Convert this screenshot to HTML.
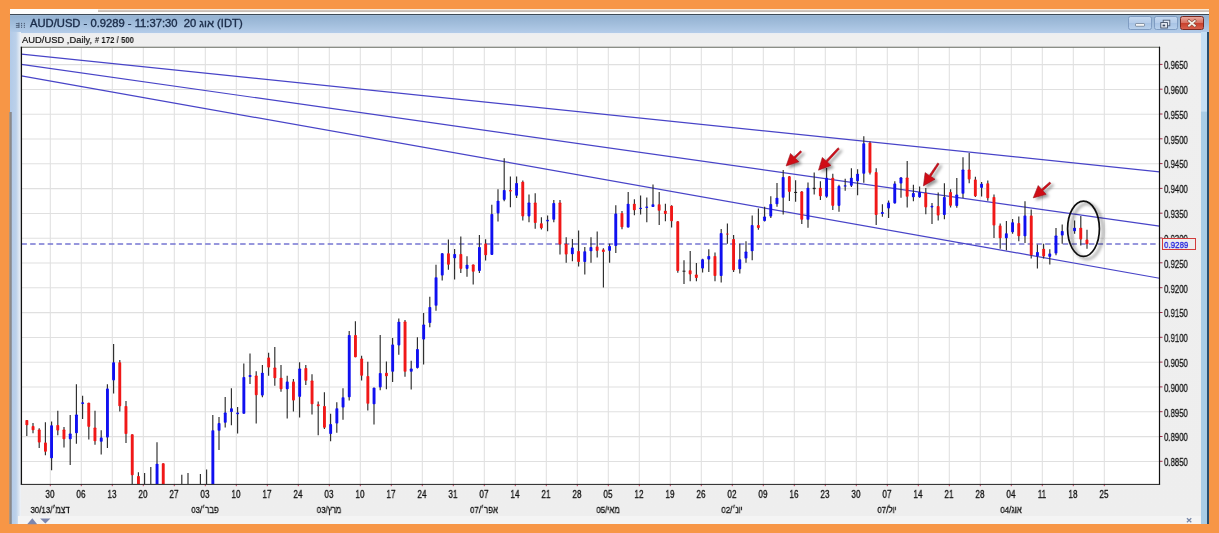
<!DOCTYPE html>
<html><head><meta charset="utf-8"><title>AUD/USD</title>
<style>
html,body{margin:0;padding:0}
body{width:1219px;height:533px;overflow:hidden;background:#f79646;position:relative;font-family:"Liberation Sans",sans-serif;}
.abs{position:absolute}
#ttext,#sub,.xl,.ml,.yl,#ptext{will-change:transform}
#strip{left:10px;top:8.5px;width:1198.7px;height:6px;background:#fefefd}
#strip2{left:97.7px;top:8.5px;width:1111px;height:3.3px;background:linear-gradient(#fbecd9 0,#f6e8d8 42%,#cbc0b8 52%,#c9beb5 88%,#efeae6 100%)}
#title{left:10px;top:14px;width:1198.7px;height:18.7px;background:linear-gradient(#a2bad4 0,#95b3d2 9%,#a2bedc 50%,#b4cce9 100%);border-top:1.2px solid #3e4a56;box-sizing:border-box}
#ttext{left:30.4px;top:17.9px;font-size:10.4px;line-height:12px;color:#1b2c49;white-space:pre;transform-origin:0 0;transform:scaleX(1.079);letter-spacing:0px;-webkit-text-stroke:0.35px #1b2c49}
#client{left:10px;top:32.8px;width:1198.7px;height:491.4px;background:linear-gradient(#e9edf3 0,#efefef 2px,#eeeeee 100%)}
#lb{left:10px;top:32.4px;width:10.6px;height:491.8px;background:linear-gradient(90deg,#b2cae8 0,#bcd1ea 55%,#dfe8f3 85%,#f2f4f8 100%)}
#lg{left:9.4px;top:112px;width:2.2px;height:412.2px;background:linear-gradient(90deg,#c09a78,#84868a 60%,#9aa4b4)}
#rb{left:1201.4px;top:32.4px;width:5.8px;height:491.8px;background:linear-gradient(#c6e0f5 0,#c6e0f5 79.2px,#a9cde6 80px,#a9cde6 100%)}
#rb2{left:1207px;top:32.4px;width:1.9px;height:491.8px;background:#2a5070}
#bstrip{left:18px;top:516px;width:1183px;height:8.2px;background:#f4f4f4}
#sub{left:22.3px;top:33.5px;font-size:9.4px;line-height:11px;color:#111;white-space:pre;transform-origin:0 0;transform:scaleX(0.998);will-change:transform;-webkit-text-stroke:0.2px #111}
#sub i{-webkit-text-stroke:0;display:inline-block;transform-origin:0 50%;transform:scaleX(0.92);font-size:8.3px;font-style:normal;font-weight:bold;letter-spacing:0.1px}
.xl{position:absolute;top:489.0px;width:30px;text-align:center;font-size:10.2px;color:#111;transform:scaleX(0.8);-webkit-text-stroke:0.3px #111}
.ml{position:absolute;top:503.6px;width:80px;text-align:center;font-size:9.6px;color:#111;transform:scaleX(0.82);white-space:pre;-webkit-text-stroke:0.3px #111}
.yl{position:absolute;left:1163.6px;font-size:10.4px;color:#111;transform-origin:0 50%;transform:scaleX(0.75);line-height:11px;-webkit-text-stroke:0.3px #111}
#pbox{left:1162.4px;top:238.2px;width:33.3px;height:11.5px;border:1px solid #d23c3c;box-sizing:border-box;background:#eeeeee}
#ptext{left:1164.4px;top:239.6px;font-size:9.6px;line-height:10px;color:#1a1ae0;-webkit-text-stroke:0.3px #1a1ae0;transform-origin:0 50%;transform:scaleX(0.83)}
.wb{position:absolute;top:16.2px;height:14.3px;box-sizing:border-box;border:1px solid #7f9cc2;border-radius:2.5px;background:linear-gradient(#c2d6ee 0,#b6cdea 48%,#a8c3e4 52%,#b8d0ec 100%)}
#bclose{left:1179.6px;width:24.6px;border-color:#7a2a22;background:linear-gradient(#e9a79c 0,#d9705f 48%,#c8402c 52%,#d9604c 100%)}
</style></head><body>
<div class="abs" id="strip"></div><div class="abs" id="strip2"></div>
<div class="abs" id="title"></div>
<svg class="abs" style="left:14px;top:20px" width="14" height="10" viewBox="14 20 14 10"><g fill="#4f607a"><rect x="15.9" y="23.2" width="3.4" height="0.9"/><rect x="15.9" y="25.0" width="3.4" height="0.9"/><rect x="15.9" y="26.8" width="3.4" height="0.9"/><rect x="18.5" y="22.6" width="0.9" height="5.3"/><rect x="21.0" y="22.9" width="1.1" height="1.3"/><rect x="21.0" y="24.9" width="1.1" height="1.3"/><rect x="21.0" y="26.8" width="1.1" height="1.1"/><rect x="23.8" y="22.9" width="1.1" height="1.3"/><rect x="23.8" y="24.9" width="1.1" height="1.3"/><rect x="23.8" y="26.8" width="1.1" height="1.1"/></g></svg>
<div class="abs" id="ttext">AUD/USD - 0.9289 - 11:37:30  20 אוג (IDT)</div>
<div class="abs" id="client"></div>
<div class="abs" id="lb"></div><div class="abs" id="lg"></div><div class="abs" id="rb"></div><div class="abs" id="rb2"></div>
<div class="abs" id="bstrip"></div>
<div class="wb" style="left:1127.8px;width:24.4px"></div>
<div class="wb" style="left:1153.6px;width:24.2px"></div>
<div class="wb" id="bclose"></div>
<svg class="abs" style="left:1127px;top:15px" width="80" height="17" viewBox="1127 15 80 17">
<rect x="1135.5" y="23.6" width="9" height="2.6" rx="0.6" fill="#fff" stroke="#5a6a80" stroke-width="0.7"/>
<rect x="1163.2" y="20.2" width="6.6" height="5.6" fill="#dfe9f5" stroke="#4c5a70" stroke-width="0.9"/>
<rect x="1160.8" y="22.6" width="6.6" height="5.4" fill="#eef3fa" stroke="#3c4a60" stroke-width="0.9"/>
<rect x="1162.6" y="24.6" width="2.6" height="1.8" fill="#3c4a60"/>
<path d="M1189 20.9 L1194.8 25.7 M1194.8 20.9 L1189 25.7" stroke="#8a4a3c" stroke-width="3.0" stroke-linecap="square"/>
<path d="M1189 20.9 L1194.8 25.7 M1194.8 20.9 L1189 25.7" stroke="#f4f2ea" stroke-width="1.8" stroke-linecap="square"/>
</svg>
<div class="abs" id="sub">AUD/USD ,Daily, <i># 172 / 500</i></div>
<svg class="abs" style="left:0;top:0" width="1219" height="533" viewBox="0 0 1219 533">
<defs>
<clipPath id="pc"><rect x="21.4" y="47.3" width="1138.1" height="436.7"/></clipPath>
<filter id="sh" x="-50%" y="-50%" width="220%" height="220%"><feDropShadow dx="2.8" dy="2.0" stdDeviation="1.5" flood-color="#000" flood-opacity="0.42"/></filter>
<filter id="sh2" x="-50%" y="-50%" width="220%" height="220%"><feDropShadow dx="3.6" dy="2.6" stdDeviation="1.7" flood-color="#000" flood-opacity="0.5"/></filter>
</defs>
<rect x="21.4" y="47.3" width="1138.1" height="436.7" fill="#ffffff"/>
<line x1="50.3" y1="47.3" x2="50.3" y2="484.0" stroke="#e0e0e0" stroke-width="1.05"/>
<line x1="81.3" y1="47.3" x2="81.3" y2="484.0" stroke="#e0e0e0" stroke-width="1.05"/>
<line x1="112.3" y1="47.3" x2="112.3" y2="484.0" stroke="#e0e0e0" stroke-width="1.05"/>
<line x1="143.3" y1="47.3" x2="143.3" y2="484.0" stroke="#e0e0e0" stroke-width="1.05"/>
<line x1="174.3" y1="47.3" x2="174.3" y2="484.0" stroke="#e0e0e0" stroke-width="1.05"/>
<line x1="205.3" y1="47.3" x2="205.3" y2="484.0" stroke="#e0e0e0" stroke-width="1.05"/>
<line x1="236.3" y1="47.3" x2="236.3" y2="484.0" stroke="#e0e0e0" stroke-width="1.05"/>
<line x1="267.3" y1="47.3" x2="267.3" y2="484.0" stroke="#e0e0e0" stroke-width="1.05"/>
<line x1="298.3" y1="47.3" x2="298.3" y2="484.0" stroke="#e0e0e0" stroke-width="1.05"/>
<line x1="329.3" y1="47.3" x2="329.3" y2="484.0" stroke="#e0e0e0" stroke-width="1.05"/>
<line x1="360.3" y1="47.3" x2="360.3" y2="484.0" stroke="#e0e0e0" stroke-width="1.05"/>
<line x1="391.3" y1="47.3" x2="391.3" y2="484.0" stroke="#e0e0e0" stroke-width="1.05"/>
<line x1="422.3" y1="47.3" x2="422.3" y2="484.0" stroke="#e0e0e0" stroke-width="1.05"/>
<line x1="453.3" y1="47.3" x2="453.3" y2="484.0" stroke="#e0e0e0" stroke-width="1.05"/>
<line x1="484.3" y1="47.3" x2="484.3" y2="484.0" stroke="#e0e0e0" stroke-width="1.05"/>
<line x1="515.3" y1="47.3" x2="515.3" y2="484.0" stroke="#e0e0e0" stroke-width="1.05"/>
<line x1="546.3" y1="47.3" x2="546.3" y2="484.0" stroke="#e0e0e0" stroke-width="1.05"/>
<line x1="577.3" y1="47.3" x2="577.3" y2="484.0" stroke="#e0e0e0" stroke-width="1.05"/>
<line x1="608.3" y1="47.3" x2="608.3" y2="484.0" stroke="#e0e0e0" stroke-width="1.05"/>
<line x1="639.3" y1="47.3" x2="639.3" y2="484.0" stroke="#e0e0e0" stroke-width="1.05"/>
<line x1="670.3" y1="47.3" x2="670.3" y2="484.0" stroke="#e0e0e0" stroke-width="1.05"/>
<line x1="701.3" y1="47.3" x2="701.3" y2="484.0" stroke="#e0e0e0" stroke-width="1.05"/>
<line x1="732.3" y1="47.3" x2="732.3" y2="484.0" stroke="#e0e0e0" stroke-width="1.05"/>
<line x1="763.3" y1="47.3" x2="763.3" y2="484.0" stroke="#e0e0e0" stroke-width="1.05"/>
<line x1="794.3" y1="47.3" x2="794.3" y2="484.0" stroke="#e0e0e0" stroke-width="1.05"/>
<line x1="825.3" y1="47.3" x2="825.3" y2="484.0" stroke="#e0e0e0" stroke-width="1.05"/>
<line x1="856.3" y1="47.3" x2="856.3" y2="484.0" stroke="#e0e0e0" stroke-width="1.05"/>
<line x1="887.3" y1="47.3" x2="887.3" y2="484.0" stroke="#e0e0e0" stroke-width="1.05"/>
<line x1="918.3" y1="47.3" x2="918.3" y2="484.0" stroke="#e0e0e0" stroke-width="1.05"/>
<line x1="949.3" y1="47.3" x2="949.3" y2="484.0" stroke="#e0e0e0" stroke-width="1.05"/>
<line x1="980.3" y1="47.3" x2="980.3" y2="484.0" stroke="#e0e0e0" stroke-width="1.05"/>
<line x1="1011.3" y1="47.3" x2="1011.3" y2="484.0" stroke="#e0e0e0" stroke-width="1.05"/>
<line x1="1042.3" y1="47.3" x2="1042.3" y2="484.0" stroke="#e0e0e0" stroke-width="1.05"/>
<line x1="1073.3" y1="47.3" x2="1073.3" y2="484.0" stroke="#e0e0e0" stroke-width="1.05"/>
<line x1="1104.3" y1="47.3" x2="1104.3" y2="484.0" stroke="#e0e0e0" stroke-width="1.05"/>
<line x1="21.4" y1="64.6" x2="1159.5" y2="64.6" stroke="#e0e0e0" stroke-width="1.05"/>
<line x1="21.4" y1="89.4" x2="1159.5" y2="89.4" stroke="#e0e0e0" stroke-width="1.05"/>
<line x1="21.4" y1="114.2" x2="1159.5" y2="114.2" stroke="#e0e0e0" stroke-width="1.05"/>
<line x1="21.4" y1="139.0" x2="1159.5" y2="139.0" stroke="#e0e0e0" stroke-width="1.05"/>
<line x1="21.4" y1="163.8" x2="1159.5" y2="163.8" stroke="#e0e0e0" stroke-width="1.05"/>
<line x1="21.4" y1="188.6" x2="1159.5" y2="188.6" stroke="#e0e0e0" stroke-width="1.05"/>
<line x1="21.4" y1="213.4" x2="1159.5" y2="213.4" stroke="#e0e0e0" stroke-width="1.05"/>
<line x1="21.4" y1="238.2" x2="1159.5" y2="238.2" stroke="#e0e0e0" stroke-width="1.05"/>
<line x1="21.4" y1="263.0" x2="1159.5" y2="263.0" stroke="#e0e0e0" stroke-width="1.05"/>
<line x1="21.4" y1="287.8" x2="1159.5" y2="287.8" stroke="#e0e0e0" stroke-width="1.05"/>
<line x1="21.4" y1="312.6" x2="1159.5" y2="312.6" stroke="#e0e0e0" stroke-width="1.05"/>
<line x1="21.4" y1="337.4" x2="1159.5" y2="337.4" stroke="#e0e0e0" stroke-width="1.05"/>
<line x1="21.4" y1="362.2" x2="1159.5" y2="362.2" stroke="#e0e0e0" stroke-width="1.05"/>
<line x1="21.4" y1="387.0" x2="1159.5" y2="387.0" stroke="#e0e0e0" stroke-width="1.05"/>
<line x1="21.4" y1="411.8" x2="1159.5" y2="411.8" stroke="#e0e0e0" stroke-width="1.05"/>
<line x1="21.4" y1="436.6" x2="1159.5" y2="436.6" stroke="#e0e0e0" stroke-width="1.05"/>
<line x1="21.4" y1="461.4" x2="1159.5" y2="461.4" stroke="#e0e0e0" stroke-width="1.05"/>
<g clip-path="url(#pc)">
<line x1="21.4" y1="244.0" x2="1159.5" y2="244.0" stroke="#7676d2" stroke-width="1.5" stroke-dasharray="5.5 3.25"/>
<line x1="21.4" y1="54.1" x2="1159.5" y2="171.8" stroke="#4844c8" stroke-width="1.2"/>
<line x1="21.4" y1="64.4" x2="1159.5" y2="226.2" stroke="#4844c8" stroke-width="1.2"/>
<line x1="21.4" y1="75.8" x2="1159.5" y2="278.25" stroke="#4844c8" stroke-width="1.2"/>
<line x1="26.8" y1="420.0" x2="26.8" y2="436.0" stroke="#2c2c2c" stroke-width="1.15"/>
<rect x="25.4" y="420.0" width="2.9" height="5.3" rx="0.8" fill="#f01818"/>
<line x1="33.0" y1="423.1" x2="33.0" y2="433.2" stroke="#2c2c2c" stroke-width="1.15"/>
<rect x="31.6" y="426.1" width="2.9" height="4.1" rx="0.8" fill="#f01818"/>
<line x1="39.2" y1="428.2" x2="39.2" y2="448.0" stroke="#2c2c2c" stroke-width="1.15"/>
<rect x="37.8" y="429.4" width="2.9" height="13.2" rx="0.8" fill="#f01818"/>
<line x1="45.4" y1="422.3" x2="45.4" y2="455.3" stroke="#2c2c2c" stroke-width="1.15"/>
<rect x="44.0" y="442.6" width="2.9" height="9.1" rx="0.8" fill="#f01818"/>
<line x1="51.6" y1="421.6" x2="51.6" y2="470.2" stroke="#2c2c2c" stroke-width="1.15"/>
<rect x="50.1" y="425.3" width="2.9" height="33.0" rx="0.8" fill="#1010f0"/>
<line x1="57.8" y1="410.7" x2="57.8" y2="435.2" stroke="#2c2c2c" stroke-width="1.15"/>
<rect x="56.3" y="424.9" width="2.9" height="5.6" rx="0.8" fill="#f01818"/>
<line x1="64.0" y1="426.9" x2="64.0" y2="447.5" stroke="#2c2c2c" stroke-width="1.15"/>
<rect x="62.5" y="429.4" width="2.9" height="9.9" rx="0.8" fill="#f01818"/>
<line x1="70.2" y1="415.0" x2="70.2" y2="464.9" stroke="#2c2c2c" stroke-width="1.15"/>
<rect x="68.8" y="433.5" width="2.9" height="5.8" rx="0.8" fill="#1010f0"/>
<line x1="76.4" y1="384.2" x2="76.4" y2="443.7" stroke="#2c2c2c" stroke-width="1.15"/>
<rect x="75.0" y="414.5" width="2.9" height="18.7" rx="0.8" fill="#1010f0"/>
<line x1="82.6" y1="395.7" x2="82.6" y2="419.1" stroke="#2c2c2c" stroke-width="1.15"/>
<rect x="81.2" y="402.3" width="2.9" height="1.7" rx="0.8" fill="#1010f0"/>
<line x1="88.8" y1="402.7" x2="88.8" y2="439.6" stroke="#2c2c2c" stroke-width="1.15"/>
<rect x="87.3" y="402.7" width="2.9" height="24.2" rx="0.8" fill="#f01818"/>
<line x1="95.0" y1="410.7" x2="95.0" y2="444.7" stroke="#2c2c2c" stroke-width="1.15"/>
<rect x="93.5" y="427.4" width="2.9" height="13.9" rx="0.8" fill="#f01818"/>
<line x1="101.2" y1="430.2" x2="101.2" y2="454.5" stroke="#2c2c2c" stroke-width="1.15"/>
<rect x="99.8" y="437.6" width="2.9" height="4.2" rx="0.8" fill="#1010f0"/>
<line x1="107.4" y1="384.2" x2="107.4" y2="448.0" stroke="#2c2c2c" stroke-width="1.15"/>
<rect x="106.0" y="388.6" width="2.9" height="49.0" rx="0.8" fill="#1010f0"/>
<line x1="113.6" y1="344.0" x2="113.6" y2="393.6" stroke="#2c2c2c" stroke-width="1.15"/>
<rect x="112.1" y="362.2" width="2.9" height="18.2" rx="0.8" fill="#1010f0"/>
<line x1="119.8" y1="360.1" x2="119.8" y2="411.5" stroke="#2c2c2c" stroke-width="1.15"/>
<rect x="118.3" y="362.2" width="2.9" height="44.1" rx="0.8" fill="#f01818"/>
<line x1="126.0" y1="401.0" x2="126.0" y2="442.9" stroke="#2c2c2c" stroke-width="1.15"/>
<rect x="124.5" y="406.0" width="2.9" height="28.0" rx="0.8" fill="#f01818"/>
<line x1="132.2" y1="434.3" x2="132.2" y2="489.0" stroke="#2c2c2c" stroke-width="1.15"/>
<rect x="130.8" y="434.3" width="2.9" height="41.0" rx="0.8" fill="#f01818"/>
<line x1="138.4" y1="472.3" x2="138.4" y2="489.0" stroke="#2c2c2c" stroke-width="1.15"/>
<rect x="137.0" y="476.0" width="2.9" height="13.0" rx="0.8" fill="#f01818"/>
<line x1="144.6" y1="473.1" x2="144.6" y2="489.0" stroke="#2c2c2c" stroke-width="1.15"/>
<line x1="150.8" y1="467.0" x2="150.8" y2="489.0" stroke="#2c2c2c" stroke-width="1.15"/>
<line x1="157.0" y1="442.3" x2="157.0" y2="489.0" stroke="#2c2c2c" stroke-width="1.15"/>
<rect x="155.6" y="463.7" width="2.9" height="25.3" rx="0.8" fill="#1010f0"/>
<line x1="163.2" y1="463.2" x2="163.2" y2="489.0" stroke="#2c2c2c" stroke-width="1.15"/>
<rect x="161.8" y="463.2" width="2.9" height="25.8" rx="0.8" fill="#f01818"/>
<line x1="181.8" y1="474.8" x2="181.8" y2="489.0" stroke="#2c2c2c" stroke-width="1.15"/>
<line x1="188.0" y1="473.1" x2="188.0" y2="489.0" stroke="#2c2c2c" stroke-width="1.15"/>
<line x1="200.4" y1="474.0" x2="200.4" y2="489.0" stroke="#2c2c2c" stroke-width="1.15"/>
<line x1="206.6" y1="469.5" x2="206.6" y2="489.0" stroke="#2c2c2c" stroke-width="1.15"/>
<line x1="212.8" y1="415.0" x2="212.8" y2="489.0" stroke="#2c2c2c" stroke-width="1.15"/>
<rect x="211.4" y="430.2" width="2.9" height="58.8" rx="0.8" fill="#1010f0"/>
<line x1="219.0" y1="417.0" x2="219.0" y2="450.0" stroke="#2c2c2c" stroke-width="1.15"/>
<rect x="217.6" y="423.1" width="2.9" height="7.6" rx="0.8" fill="#1010f0"/>
<line x1="225.2" y1="396.9" x2="225.2" y2="427.4" stroke="#2c2c2c" stroke-width="1.15"/>
<rect x="223.8" y="412.5" width="2.9" height="10.3" rx="0.8" fill="#1010f0"/>
<line x1="231.4" y1="388.2" x2="231.4" y2="425.3" stroke="#2c2c2c" stroke-width="1.15"/>
<rect x="230.0" y="408.2" width="2.9" height="3.8" rx="0.8" fill="#1010f0"/>
<line x1="237.6" y1="407.1" x2="237.6" y2="433.5" stroke="#2c2c2c" stroke-width="1.15"/>
<rect x="236.2" y="412.5" width="2.9" height="1.7" rx="0.8" fill="#1010f0"/>
<line x1="243.8" y1="363.4" x2="243.8" y2="413.7" stroke="#2c2c2c" stroke-width="1.15"/>
<rect x="242.4" y="377.1" width="2.9" height="36.6" rx="0.8" fill="#1010f0"/>
<line x1="250.0" y1="353.5" x2="250.0" y2="384.1" stroke="#2c2c2c" stroke-width="1.15"/>
<rect x="248.6" y="375.0" width="2.9" height="2.1" rx="0.8" fill="#1010f0"/>
<line x1="256.2" y1="371.2" x2="256.2" y2="423.6" stroke="#2c2c2c" stroke-width="1.15"/>
<rect x="254.8" y="375.5" width="2.9" height="19.8" rx="0.8" fill="#f01818"/>
<line x1="262.4" y1="365.1" x2="262.4" y2="397.3" stroke="#2c2c2c" stroke-width="1.15"/>
<rect x="260.9" y="372.8" width="2.9" height="22.8" rx="0.8" fill="#1010f0"/>
<line x1="268.6" y1="352.7" x2="268.6" y2="375.8" stroke="#2c2c2c" stroke-width="1.15"/>
<rect x="267.2" y="357.6" width="2.9" height="9.9" rx="0.8" fill="#f01818"/>
<line x1="274.8" y1="346.9" x2="274.8" y2="385.7" stroke="#2c2c2c" stroke-width="1.15"/>
<rect x="273.4" y="367.5" width="2.9" height="10.8" rx="0.8" fill="#f01818"/>
<line x1="281.0" y1="365.1" x2="281.0" y2="391.8" stroke="#2c2c2c" stroke-width="1.15"/>
<rect x="279.6" y="377.8" width="2.9" height="11.5" rx="0.8" fill="#f01818"/>
<line x1="287.2" y1="375.8" x2="287.2" y2="418.6" stroke="#2c2c2c" stroke-width="1.15"/>
<rect x="285.8" y="381.6" width="2.9" height="7.7" rx="0.8" fill="#1010f0"/>
<line x1="293.4" y1="379.1" x2="293.4" y2="411.5" stroke="#2c2c2c" stroke-width="1.15"/>
<rect x="292.0" y="381.6" width="2.9" height="18.9" rx="0.8" fill="#f01818"/>
<line x1="299.6" y1="362.3" x2="299.6" y2="417.5" stroke="#2c2c2c" stroke-width="1.15"/>
<rect x="298.2" y="368.4" width="2.9" height="28.5" rx="0.8" fill="#1010f0"/>
<line x1="305.8" y1="365.1" x2="305.8" y2="384.9" stroke="#2c2c2c" stroke-width="1.15"/>
<rect x="304.4" y="368.0" width="2.9" height="12.8" rx="0.8" fill="#f01818"/>
<line x1="312.0" y1="374.2" x2="312.0" y2="414.5" stroke="#2c2c2c" stroke-width="1.15"/>
<rect x="310.6" y="380.4" width="2.9" height="23.9" rx="0.8" fill="#f01818"/>
<line x1="318.2" y1="401.4" x2="318.2" y2="435.2" stroke="#2c2c2c" stroke-width="1.15"/>
<rect x="316.8" y="404.3" width="2.9" height="2.0" rx="0.8" fill="#f01818"/>
<line x1="324.4" y1="392.3" x2="324.4" y2="429.0" stroke="#2c2c2c" stroke-width="1.15"/>
<rect x="323.0" y="405.9" width="2.9" height="21.8" rx="0.8" fill="#f01818"/>
<line x1="330.6" y1="413.7" x2="330.6" y2="441.3" stroke="#2c2c2c" stroke-width="1.15"/>
<rect x="329.2" y="424.1" width="2.9" height="9.9" rx="0.8" fill="#1010f0"/>
<line x1="336.8" y1="402.2" x2="336.8" y2="432.7" stroke="#2c2c2c" stroke-width="1.15"/>
<rect x="335.4" y="408.2" width="2.9" height="15.4" rx="0.8" fill="#1010f0"/>
<line x1="343.0" y1="388.2" x2="343.0" y2="419.8" stroke="#2c2c2c" stroke-width="1.15"/>
<rect x="341.6" y="397.3" width="2.9" height="10.3" rx="0.8" fill="#1010f0"/>
<line x1="349.2" y1="330.9" x2="349.2" y2="400.6" stroke="#2c2c2c" stroke-width="1.15"/>
<rect x="347.8" y="335.0" width="2.9" height="62.3" rx="0.8" fill="#1010f0"/>
<line x1="355.4" y1="321.3" x2="355.4" y2="357.3" stroke="#2c2c2c" stroke-width="1.15"/>
<rect x="354.0" y="335.0" width="2.9" height="22.3" rx="0.8" fill="#f01818"/>
<line x1="361.6" y1="355.7" x2="361.6" y2="380.4" stroke="#2c2c2c" stroke-width="1.15"/>
<rect x="360.2" y="358.5" width="2.9" height="17.3" rx="0.8" fill="#f01818"/>
<line x1="367.8" y1="361.8" x2="367.8" y2="410.4" stroke="#2c2c2c" stroke-width="1.15"/>
<rect x="366.4" y="376.1" width="2.9" height="27.7" rx="0.8" fill="#f01818"/>
<line x1="374.0" y1="387.4" x2="374.0" y2="424.4" stroke="#2c2c2c" stroke-width="1.15"/>
<rect x="372.6" y="387.7" width="2.9" height="16.6" rx="0.8" fill="#1010f0"/>
<line x1="380.2" y1="335.0" x2="380.2" y2="390.2" stroke="#2c2c2c" stroke-width="1.15"/>
<rect x="378.8" y="373.0" width="2.9" height="14.4" rx="0.8" fill="#1010f0"/>
<line x1="386.4" y1="361.4" x2="386.4" y2="389.3" stroke="#2c2c2c" stroke-width="1.15"/>
<rect x="385.0" y="372.7" width="2.9" height="3.6" rx="0.8" fill="#f01818"/>
<line x1="392.6" y1="338.0" x2="392.6" y2="382.1" stroke="#2c2c2c" stroke-width="1.15"/>
<rect x="391.2" y="344.6" width="2.9" height="27.2" rx="0.8" fill="#1010f0"/>
<line x1="398.8" y1="318.5" x2="398.8" y2="354.8" stroke="#2c2c2c" stroke-width="1.15"/>
<rect x="397.4" y="321.8" width="2.9" height="23.6" rx="0.8" fill="#1010f0"/>
<line x1="405.0" y1="320.1" x2="405.0" y2="376.8" stroke="#2c2c2c" stroke-width="1.15"/>
<rect x="403.6" y="321.5" width="2.9" height="50.3" rx="0.8" fill="#f01818"/>
<line x1="411.2" y1="360.8" x2="411.2" y2="389.5" stroke="#2c2c2c" stroke-width="1.15"/>
<rect x="409.8" y="368.5" width="2.9" height="3.3" rx="0.8" fill="#1010f0"/>
<line x1="417.4" y1="337.2" x2="417.4" y2="368.5" stroke="#2c2c2c" stroke-width="1.15"/>
<rect x="416.0" y="349.1" width="2.9" height="18.9" rx="0.8" fill="#1010f0"/>
<line x1="423.6" y1="312.9" x2="423.6" y2="364.4" stroke="#2c2c2c" stroke-width="1.15"/>
<rect x="422.2" y="324.4" width="2.9" height="15.2" rx="0.8" fill="#1010f0"/>
<line x1="429.8" y1="296.7" x2="429.8" y2="327.3" stroke="#2c2c2c" stroke-width="1.15"/>
<rect x="428.4" y="306.9" width="2.9" height="16.2" rx="0.8" fill="#1010f0"/>
<line x1="436.0" y1="264.8" x2="436.0" y2="310.7" stroke="#2c2c2c" stroke-width="1.15"/>
<rect x="434.6" y="277.2" width="2.9" height="28.6" rx="0.8" fill="#1010f0"/>
<line x1="442.2" y1="252.9" x2="442.2" y2="280.5" stroke="#2c2c2c" stroke-width="1.15"/>
<rect x="440.8" y="253.2" width="2.9" height="22.3" rx="0.8" fill="#1010f0"/>
<line x1="448.4" y1="239.5" x2="448.4" y2="269.7" stroke="#2c2c2c" stroke-width="1.15"/>
<rect x="447.0" y="253.2" width="2.9" height="11.6" rx="0.8" fill="#f01818"/>
<line x1="454.6" y1="249.1" x2="454.6" y2="279.6" stroke="#2c2c2c" stroke-width="1.15"/>
<rect x="453.2" y="254.0" width="2.9" height="4.2" rx="0.8" fill="#1010f0"/>
<line x1="460.8" y1="236.6" x2="460.8" y2="273.0" stroke="#2c2c2c" stroke-width="1.15"/>
<rect x="459.4" y="254.0" width="2.9" height="14.9" rx="0.8" fill="#f01818"/>
<line x1="467.0" y1="256.2" x2="467.0" y2="276.7" stroke="#2c2c2c" stroke-width="1.15"/>
<rect x="465.6" y="264.8" width="2.9" height="4.1" rx="0.8" fill="#1010f0"/>
<line x1="473.2" y1="264.4" x2="473.2" y2="284.6" stroke="#2c2c2c" stroke-width="1.15"/>
<rect x="471.8" y="264.4" width="2.9" height="7.3" rx="0.8" fill="#f01818"/>
<line x1="479.4" y1="235.1" x2="479.4" y2="273.0" stroke="#2c2c2c" stroke-width="1.15"/>
<rect x="478.0" y="246.9" width="2.9" height="24.1" rx="0.8" fill="#1010f0"/>
<line x1="485.6" y1="239.2" x2="485.6" y2="260.6" stroke="#2c2c2c" stroke-width="1.15"/>
<rect x="484.2" y="243.6" width="2.9" height="11.6" rx="0.8" fill="#f01818"/>
<line x1="491.8" y1="204.8" x2="491.8" y2="254.9" stroke="#2c2c2c" stroke-width="1.15"/>
<rect x="490.4" y="213.9" width="2.9" height="41.0" rx="0.8" fill="#1010f0"/>
<line x1="498.0" y1="189.2" x2="498.0" y2="221.4" stroke="#2c2c2c" stroke-width="1.15"/>
<rect x="496.6" y="200.7" width="2.9" height="12.7" rx="0.8" fill="#1010f0"/>
<line x1="504.2" y1="158.3" x2="504.2" y2="201.2" stroke="#2c2c2c" stroke-width="1.15"/>
<rect x="502.8" y="190.0" width="2.9" height="9.9" rx="0.8" fill="#1010f0"/>
<line x1="510.4" y1="176.4" x2="510.4" y2="207.3" stroke="#2c2c2c" stroke-width="1.15"/>
<rect x="509.0" y="190.0" width="2.9" height="1.6" rx="0.8" fill="#f01818"/>
<line x1="516.6" y1="176.4" x2="516.6" y2="197.9" stroke="#2c2c2c" stroke-width="1.15"/>
<rect x="515.1" y="183.0" width="2.9" height="12.8" rx="0.8" fill="#1010f0"/>
<line x1="522.8" y1="180.4" x2="522.8" y2="220.5" stroke="#2c2c2c" stroke-width="1.15"/>
<rect x="521.3" y="181.7" width="2.9" height="34.7" rx="0.8" fill="#f01818"/>
<line x1="529.0" y1="194.6" x2="529.0" y2="222.2" stroke="#2c2c2c" stroke-width="1.15"/>
<rect x="527.5" y="202.4" width="2.9" height="14.0" rx="0.8" fill="#1010f0"/>
<line x1="535.2" y1="193.3" x2="535.2" y2="228.8" stroke="#2c2c2c" stroke-width="1.15"/>
<rect x="533.8" y="202.4" width="2.9" height="20.6" rx="0.8" fill="#f01818"/>
<line x1="541.4" y1="217.2" x2="541.4" y2="229.6" stroke="#2c2c2c" stroke-width="1.15"/>
<rect x="539.9" y="223.3" width="2.9" height="5.0" rx="0.8" fill="#f01818"/>
<line x1="547.6" y1="215.6" x2="547.6" y2="231.3" stroke="#2c2c2c" stroke-width="1.15"/>
<rect x="546.1" y="219.7" width="2.9" height="1.7" rx="0.8" fill="#1010f0"/>
<line x1="553.8" y1="199.9" x2="553.8" y2="222.2" stroke="#2c2c2c" stroke-width="1.15"/>
<rect x="552.3" y="202.9" width="2.9" height="16.8" rx="0.8" fill="#1010f0"/>
<line x1="560.0" y1="199.9" x2="560.0" y2="254.5" stroke="#2c2c2c" stroke-width="1.15"/>
<rect x="558.5" y="202.4" width="2.9" height="42.2" rx="0.8" fill="#f01818"/>
<line x1="566.2" y1="237.2" x2="566.2" y2="262.8" stroke="#2c2c2c" stroke-width="1.15"/>
<rect x="564.7" y="243.8" width="2.9" height="10.7" rx="0.8" fill="#f01818"/>
<line x1="572.4" y1="238.9" x2="572.4" y2="261.2" stroke="#2c2c2c" stroke-width="1.15"/>
<rect x="570.9" y="247.6" width="2.9" height="6.6" rx="0.8" fill="#1010f0"/>
<line x1="578.6" y1="230.6" x2="578.6" y2="266.4" stroke="#2c2c2c" stroke-width="1.15"/>
<rect x="577.1" y="250.9" width="2.9" height="11.1" rx="0.8" fill="#f01818"/>
<line x1="584.8" y1="247.1" x2="584.8" y2="274.4" stroke="#2c2c2c" stroke-width="1.15"/>
<rect x="583.3" y="251.2" width="2.9" height="10.8" rx="0.8" fill="#1010f0"/>
<line x1="591.0" y1="237.2" x2="591.0" y2="262.8" stroke="#2c2c2c" stroke-width="1.15"/>
<rect x="589.5" y="247.1" width="2.9" height="4.1" rx="0.8" fill="#1010f0"/>
<line x1="597.2" y1="231.4" x2="597.2" y2="257.5" stroke="#2c2c2c" stroke-width="1.15"/>
<rect x="595.7" y="246.6" width="2.9" height="4.3" rx="0.8" fill="#f01818"/>
<line x1="603.4" y1="248.3" x2="603.4" y2="287.6" stroke="#2c2c2c" stroke-width="1.15"/>
<rect x="601.9" y="249.6" width="2.9" height="2.5" rx="0.8" fill="#f01818"/>
<line x1="609.6" y1="243.8" x2="609.6" y2="262.8" stroke="#2c2c2c" stroke-width="1.15"/>
<rect x="608.1" y="246.0" width="2.9" height="4.9" rx="0.8" fill="#1010f0"/>
<line x1="615.8" y1="205.3" x2="615.8" y2="252.9" stroke="#2c2c2c" stroke-width="1.15"/>
<rect x="614.3" y="213.6" width="2.9" height="32.4" rx="0.8" fill="#1010f0"/>
<line x1="622.0" y1="211.1" x2="622.0" y2="229.3" stroke="#2c2c2c" stroke-width="1.15"/>
<rect x="620.5" y="213.1" width="2.9" height="14.2" rx="0.8" fill="#f01818"/>
<line x1="628.2" y1="192.1" x2="628.2" y2="227.6" stroke="#2c2c2c" stroke-width="1.15"/>
<rect x="626.7" y="203.7" width="2.9" height="23.9" rx="0.8" fill="#1010f0"/>
<line x1="634.4" y1="199.2" x2="634.4" y2="215.2" stroke="#2c2c2c" stroke-width="1.15"/>
<rect x="632.9" y="203.7" width="2.9" height="6.6" rx="0.8" fill="#f01818"/>
<line x1="640.6" y1="195.4" x2="640.6" y2="214.4" stroke="#2c2c2c" stroke-width="1.15"/>
<rect x="639.1" y="207.8" width="2.9" height="1.3" rx="0.8" fill="#1010f0"/>
<line x1="646.8" y1="197.6" x2="646.8" y2="222.3" stroke="#2c2c2c" stroke-width="1.15"/>
<rect x="645.3" y="206.5" width="2.9" height="1.6" rx="0.8" fill="#1010f0"/>
<line x1="653.0" y1="184.4" x2="653.0" y2="207.0" stroke="#2c2c2c" stroke-width="1.15"/>
<rect x="651.5" y="204.2" width="2.9" height="2.8" rx="0.8" fill="#1010f0"/>
<line x1="659.2" y1="192.1" x2="659.2" y2="225.1" stroke="#2c2c2c" stroke-width="1.15"/>
<rect x="657.7" y="204.2" width="2.9" height="6.6" rx="0.8" fill="#f01818"/>
<line x1="665.4" y1="203.7" x2="665.4" y2="221.3" stroke="#2c2c2c" stroke-width="1.15"/>
<rect x="663.9" y="210.8" width="2.9" height="3.3" rx="0.8" fill="#f01818"/>
<line x1="671.6" y1="205.3" x2="671.6" y2="227.6" stroke="#2c2c2c" stroke-width="1.15"/>
<rect x="670.1" y="205.8" width="2.9" height="15.5" rx="0.8" fill="#f01818"/>
<line x1="677.8" y1="221.0" x2="677.8" y2="272.7" stroke="#2c2c2c" stroke-width="1.15"/>
<rect x="676.3" y="221.3" width="2.9" height="49.8" rx="0.8" fill="#f01818"/>
<line x1="684.0" y1="260.3" x2="684.0" y2="283.9" stroke="#2c2c2c" stroke-width="1.15"/>
<rect x="682.5" y="270.7" width="3" height="1.0" fill="#222"/>
<line x1="690.2" y1="250.9" x2="690.2" y2="281.3" stroke="#2c2c2c" stroke-width="1.15"/>
<rect x="688.7" y="270.2" width="2.9" height="4.2" rx="0.8" fill="#f01818"/>
<line x1="696.4" y1="263.1" x2="696.4" y2="281.3" stroke="#2c2c2c" stroke-width="1.15"/>
<rect x="694.9" y="274.4" width="2.9" height="3.6" rx="0.8" fill="#f01818"/>
<line x1="702.6" y1="258.7" x2="702.6" y2="272.4" stroke="#2c2c2c" stroke-width="1.15"/>
<rect x="701.1" y="259.2" width="2.9" height="9.4" rx="0.8" fill="#1010f0"/>
<line x1="708.8" y1="249.3" x2="708.8" y2="271.9" stroke="#2c2c2c" stroke-width="1.15"/>
<rect x="707.3" y="255.9" width="2.9" height="3.6" rx="0.8" fill="#1010f0"/>
<line x1="715.0" y1="252.6" x2="715.0" y2="281.3" stroke="#2c2c2c" stroke-width="1.15"/>
<rect x="713.5" y="255.9" width="2.9" height="20.1" rx="0.8" fill="#f01818"/>
<line x1="721.2" y1="228.9" x2="721.2" y2="282.6" stroke="#2c2c2c" stroke-width="1.15"/>
<rect x="719.7" y="233.1" width="2.9" height="42.9" rx="0.8" fill="#1010f0"/>
<line x1="727.4" y1="223.5" x2="727.4" y2="243.8" stroke="#2c2c2c" stroke-width="1.15"/>
<rect x="725.9" y="233.4" width="2.9" height="1.2" rx="0.8" fill="#f01818"/>
<line x1="733.6" y1="235.1" x2="733.6" y2="271.9" stroke="#2c2c2c" stroke-width="1.15"/>
<rect x="732.1" y="238.9" width="2.9" height="31.3" rx="0.8" fill="#f01818"/>
<line x1="739.8" y1="243.8" x2="739.8" y2="273.4" stroke="#2c2c2c" stroke-width="1.15"/>
<rect x="738.3" y="259.2" width="2.9" height="10.1" rx="0.8" fill="#1010f0"/>
<line x1="746.0" y1="241.2" x2="746.0" y2="262.7" stroke="#2c2c2c" stroke-width="1.15"/>
<rect x="744.5" y="251.5" width="2.9" height="7.1" rx="0.8" fill="#1010f0"/>
<line x1="752.2" y1="215.6" x2="752.2" y2="260.2" stroke="#2c2c2c" stroke-width="1.15"/>
<rect x="750.7" y="225.1" width="2.9" height="26.1" rx="0.8" fill="#1010f0"/>
<line x1="758.4" y1="208.4" x2="758.4" y2="229.7" stroke="#2c2c2c" stroke-width="1.15"/>
<rect x="756.9" y="225.1" width="2.9" height="2.9" rx="0.8" fill="#f01818"/>
<line x1="764.6" y1="206.8" x2="764.6" y2="221.4" stroke="#2c2c2c" stroke-width="1.15"/>
<rect x="763.1" y="216.5" width="2.9" height="4.6" rx="0.8" fill="#1010f0"/>
<line x1="770.8" y1="196.3" x2="770.8" y2="218.1" stroke="#2c2c2c" stroke-width="1.15"/>
<rect x="769.3" y="203.9" width="2.9" height="12.6" rx="0.8" fill="#1010f0"/>
<line x1="777.0" y1="183.1" x2="777.0" y2="206.8" stroke="#2c2c2c" stroke-width="1.15"/>
<rect x="775.5" y="197.7" width="2.9" height="6.6" rx="0.8" fill="#1010f0"/>
<line x1="783.2" y1="169.9" x2="783.2" y2="214.5" stroke="#2c2c2c" stroke-width="1.15"/>
<rect x="781.7" y="177.0" width="2.9" height="20.7" rx="0.8" fill="#1010f0"/>
<line x1="789.4" y1="175.9" x2="789.4" y2="201.0" stroke="#2c2c2c" stroke-width="1.15"/>
<rect x="787.9" y="176.2" width="2.9" height="15.7" rx="0.8" fill="#f01818"/>
<line x1="795.6" y1="180.3" x2="795.6" y2="201.8" stroke="#2c2c2c" stroke-width="1.15"/>
<rect x="794.1" y="191.9" width="3" height="1.1" fill="#222"/>
<line x1="801.8" y1="191.1" x2="801.8" y2="223.9" stroke="#2c2c2c" stroke-width="1.15"/>
<rect x="800.3" y="191.4" width="2.9" height="28.4" rx="0.8" fill="#f01818"/>
<line x1="808.0" y1="182.5" x2="808.0" y2="227.7" stroke="#2c2c2c" stroke-width="1.15"/>
<rect x="806.5" y="187.8" width="2.9" height="32.0" rx="0.8" fill="#1010f0"/>
<line x1="814.2" y1="172.6" x2="814.2" y2="194.4" stroke="#2c2c2c" stroke-width="1.15"/>
<rect x="812.7" y="187.8" width="3" height="1.3" fill="#222"/>
<line x1="820.4" y1="181.2" x2="820.4" y2="200.1" stroke="#2c2c2c" stroke-width="1.15"/>
<rect x="818.9" y="187.8" width="2.9" height="8.5" rx="0.8" fill="#f01818"/>
<line x1="826.6" y1="167.9" x2="826.6" y2="197.7" stroke="#2c2c2c" stroke-width="1.15"/>
<rect x="825.1" y="177.8" width="2.9" height="19.0" rx="0.8" fill="#1010f0"/>
<line x1="832.8" y1="173.7" x2="832.8" y2="210.1" stroke="#2c2c2c" stroke-width="1.15"/>
<rect x="831.3" y="177.8" width="2.9" height="28.1" rx="0.8" fill="#f01818"/>
<line x1="839.0" y1="184.8" x2="839.0" y2="211.7" stroke="#2c2c2c" stroke-width="1.15"/>
<rect x="837.5" y="186.1" width="2.9" height="19.8" rx="0.8" fill="#1010f0"/>
<line x1="845.2" y1="178.7" x2="845.2" y2="190.7" stroke="#2c2c2c" stroke-width="1.15"/>
<rect x="843.7" y="185.3" width="2.9" height="1.2" rx="0.8" fill="#1010f0"/>
<line x1="851.4" y1="168.3" x2="851.4" y2="186.9" stroke="#2c2c2c" stroke-width="1.15"/>
<rect x="849.9" y="177.8" width="2.9" height="8.0" rx="0.8" fill="#1010f0"/>
<line x1="857.6" y1="169.3" x2="857.6" y2="195.2" stroke="#2c2c2c" stroke-width="1.15"/>
<rect x="856.1" y="173.7" width="2.9" height="7.5" rx="0.8" fill="#1010f0"/>
<line x1="863.8" y1="136.2" x2="863.8" y2="182.8" stroke="#2c2c2c" stroke-width="1.15"/>
<rect x="862.3" y="143.2" width="2.9" height="30.5" rx="0.8" fill="#1010f0"/>
<line x1="870.0" y1="141.5" x2="870.0" y2="174.5" stroke="#2c2c2c" stroke-width="1.15"/>
<rect x="868.5" y="142.8" width="2.9" height="30.1" rx="0.8" fill="#f01818"/>
<line x1="876.2" y1="168.3" x2="876.2" y2="225.1" stroke="#2c2c2c" stroke-width="1.15"/>
<rect x="874.7" y="172.1" width="2.9" height="43.0" rx="0.8" fill="#f01818"/>
<line x1="882.4" y1="204.3" x2="882.4" y2="216.8" stroke="#2c2c2c" stroke-width="1.15"/>
<rect x="880.9" y="212.0" width="2.9" height="2.0" rx="0.8" fill="#1010f0"/>
<line x1="888.6" y1="200.6" x2="888.6" y2="218.1" stroke="#2c2c2c" stroke-width="1.15"/>
<rect x="887.1" y="202.6" width="2.9" height="5.8" rx="0.8" fill="#1010f0"/>
<line x1="894.8" y1="181.2" x2="894.8" y2="203.4" stroke="#2c2c2c" stroke-width="1.15"/>
<rect x="893.3" y="183.6" width="2.9" height="19.8" rx="0.8" fill="#1010f0"/>
<line x1="901.0" y1="177.0" x2="901.0" y2="197.7" stroke="#2c2c2c" stroke-width="1.15"/>
<rect x="899.5" y="177.5" width="2.9" height="6.1" rx="0.8" fill="#1010f0"/>
<line x1="907.2" y1="161.0" x2="907.2" y2="207.6" stroke="#2c2c2c" stroke-width="1.15"/>
<rect x="905.7" y="177.5" width="2.9" height="19.3" rx="0.8" fill="#f01818"/>
<line x1="913.4" y1="184.8" x2="913.4" y2="201.3" stroke="#2c2c2c" stroke-width="1.15"/>
<rect x="911.9" y="193.0" width="2.9" height="4.3" rx="0.8" fill="#1010f0"/>
<line x1="919.6" y1="186.4" x2="919.6" y2="197.7" stroke="#2c2c2c" stroke-width="1.15"/>
<rect x="918.1" y="191.9" width="2.9" height="5.4" rx="0.8" fill="#1010f0"/>
<line x1="925.8" y1="187.9" x2="925.8" y2="214.3" stroke="#2c2c2c" stroke-width="1.15"/>
<rect x="924.3" y="192.8" width="2.9" height="14.6" rx="0.8" fill="#f01818"/>
<line x1="932.0" y1="203.1" x2="932.0" y2="223.9" stroke="#2c2c2c" stroke-width="1.15"/>
<rect x="930.5" y="205.7" width="2.9" height="1.7" rx="0.8" fill="#1010f0"/>
<line x1="938.2" y1="192.5" x2="938.2" y2="220.6" stroke="#2c2c2c" stroke-width="1.15"/>
<rect x="936.7" y="206.1" width="2.9" height="9.5" rx="0.8" fill="#f01818"/>
<line x1="944.4" y1="183.3" x2="944.4" y2="219.3" stroke="#2c2c2c" stroke-width="1.15"/>
<rect x="942.9" y="197.0" width="2.9" height="18.1" rx="0.8" fill="#1010f0"/>
<line x1="950.6" y1="189.2" x2="950.6" y2="207.4" stroke="#2c2c2c" stroke-width="1.15"/>
<rect x="949.1" y="192.0" width="2.9" height="13.7" rx="0.8" fill="#f01818"/>
<line x1="956.8" y1="178.0" x2="956.8" y2="207.7" stroke="#2c2c2c" stroke-width="1.15"/>
<rect x="955.3" y="194.5" width="2.9" height="11.6" rx="0.8" fill="#1010f0"/>
<line x1="963.0" y1="157.3" x2="963.0" y2="198.1" stroke="#2c2c2c" stroke-width="1.15"/>
<rect x="961.5" y="169.4" width="2.9" height="24.3" rx="0.8" fill="#1010f0"/>
<line x1="969.2" y1="152.9" x2="969.2" y2="183.3" stroke="#2c2c2c" stroke-width="1.15"/>
<rect x="967.7" y="169.4" width="2.9" height="10.2" rx="0.8" fill="#f01818"/>
<line x1="975.4" y1="176.7" x2="975.4" y2="197.0" stroke="#2c2c2c" stroke-width="1.15"/>
<rect x="973.9" y="179.6" width="2.9" height="16.6" rx="0.8" fill="#f01818"/>
<line x1="981.6" y1="182.1" x2="981.6" y2="196.5" stroke="#2c2c2c" stroke-width="1.15"/>
<rect x="980.1" y="183.8" width="2.9" height="4.1" rx="0.8" fill="#1010f0"/>
<line x1="987.8" y1="180.5" x2="987.8" y2="200.8" stroke="#2c2c2c" stroke-width="1.15"/>
<rect x="986.3" y="183.3" width="2.9" height="15.0" rx="0.8" fill="#f01818"/>
<line x1="994.0" y1="194.5" x2="994.0" y2="237.9" stroke="#2c2c2c" stroke-width="1.15"/>
<rect x="992.5" y="197.0" width="2.9" height="28.6" rx="0.8" fill="#f01818"/>
<line x1="1000.2" y1="223.4" x2="1000.2" y2="248.7" stroke="#2c2c2c" stroke-width="1.15"/>
<rect x="998.7" y="225.6" width="2.9" height="12.7" rx="0.8" fill="#f01818"/>
<line x1="1006.4" y1="221.1" x2="1006.4" y2="250.3" stroke="#2c2c2c" stroke-width="1.15"/>
<rect x="1004.9" y="233.3" width="2.9" height="5.0" rx="0.8" fill="#1010f0"/>
<line x1="1012.6" y1="218.9" x2="1012.6" y2="233.8" stroke="#2c2c2c" stroke-width="1.15"/>
<rect x="1011.1" y="222.3" width="2.9" height="9.9" rx="0.8" fill="#1010f0"/>
<line x1="1018.8" y1="216.5" x2="1018.8" y2="241.2" stroke="#2c2c2c" stroke-width="1.15"/>
<rect x="1017.3" y="223.1" width="2.9" height="13.2" rx="0.8" fill="#f01818"/>
<line x1="1025.0" y1="201.3" x2="1025.0" y2="242.9" stroke="#2c2c2c" stroke-width="1.15"/>
<rect x="1023.5" y="215.6" width="2.9" height="20.7" rx="0.8" fill="#1010f0"/>
<line x1="1031.2" y1="209.5" x2="1031.2" y2="258.6" stroke="#2c2c2c" stroke-width="1.15"/>
<rect x="1029.8" y="215.6" width="2.9" height="39.7" rx="0.8" fill="#f01818"/>
<line x1="1037.4" y1="244.5" x2="1037.4" y2="268.5" stroke="#2c2c2c" stroke-width="1.15"/>
<rect x="1036.0" y="252.0" width="2.9" height="4.4" rx="0.8" fill="#1010f0"/>
<line x1="1043.6" y1="243.7" x2="1043.6" y2="258.6" stroke="#2c2c2c" stroke-width="1.15"/>
<rect x="1042.2" y="248.7" width="2.9" height="7.7" rx="0.8" fill="#f01818"/>
<line x1="1049.8" y1="249.2" x2="1049.8" y2="264.4" stroke="#2c2c2c" stroke-width="1.15"/>
<rect x="1048.3" y="253.6" width="2.9" height="3.3" rx="0.8" fill="#1010f0"/>
<line x1="1056.0" y1="228.0" x2="1056.0" y2="255.3" stroke="#2c2c2c" stroke-width="1.15"/>
<rect x="1054.5" y="235.5" width="2.9" height="18.1" rx="0.8" fill="#1010f0"/>
<line x1="1062.2" y1="224.4" x2="1062.2" y2="243.7" stroke="#2c2c2c" stroke-width="1.15"/>
<rect x="1060.8" y="231.0" width="2.9" height="4.5" rx="0.8" fill="#1010f0"/>
<line x1="1074.6" y1="220.6" x2="1074.6" y2="233.8" stroke="#2c2c2c" stroke-width="1.15"/>
<rect x="1073.1" y="227.7" width="2.9" height="3.6" rx="0.8" fill="#1010f0"/>
<line x1="1080.8" y1="216.1" x2="1080.8" y2="245.4" stroke="#2c2c2c" stroke-width="1.15"/>
<rect x="1079.3" y="227.7" width="2.9" height="11.9" rx="0.8" fill="#f01818"/>
<line x1="1087.0" y1="229.7" x2="1087.0" y2="248.7" stroke="#2c2c2c" stroke-width="1.15"/>
<rect x="1085.5" y="239.6" width="2.9" height="4.6" rx="0.8" fill="#f01818"/>
</g>
<line x1="50.3" y1="484.0" x2="50.3" y2="486.2" stroke="#c04060" stroke-width="1"/>
<line x1="81.3" y1="484.0" x2="81.3" y2="486.2" stroke="#c04060" stroke-width="1"/>
<line x1="112.3" y1="484.0" x2="112.3" y2="486.2" stroke="#c04060" stroke-width="1"/>
<line x1="143.3" y1="484.0" x2="143.3" y2="486.2" stroke="#c04060" stroke-width="1"/>
<line x1="174.3" y1="484.0" x2="174.3" y2="486.2" stroke="#c04060" stroke-width="1"/>
<line x1="205.3" y1="484.0" x2="205.3" y2="486.2" stroke="#c04060" stroke-width="1"/>
<line x1="236.3" y1="484.0" x2="236.3" y2="486.2" stroke="#c04060" stroke-width="1"/>
<line x1="267.3" y1="484.0" x2="267.3" y2="486.2" stroke="#c04060" stroke-width="1"/>
<line x1="298.3" y1="484.0" x2="298.3" y2="486.2" stroke="#c04060" stroke-width="1"/>
<line x1="329.3" y1="484.0" x2="329.3" y2="486.2" stroke="#c04060" stroke-width="1"/>
<line x1="360.3" y1="484.0" x2="360.3" y2="486.2" stroke="#c04060" stroke-width="1"/>
<line x1="391.3" y1="484.0" x2="391.3" y2="486.2" stroke="#c04060" stroke-width="1"/>
<line x1="422.3" y1="484.0" x2="422.3" y2="486.2" stroke="#c04060" stroke-width="1"/>
<line x1="453.3" y1="484.0" x2="453.3" y2="486.2" stroke="#c04060" stroke-width="1"/>
<line x1="484.3" y1="484.0" x2="484.3" y2="486.2" stroke="#c04060" stroke-width="1"/>
<line x1="515.3" y1="484.0" x2="515.3" y2="486.2" stroke="#c04060" stroke-width="1"/>
<line x1="546.3" y1="484.0" x2="546.3" y2="486.2" stroke="#c04060" stroke-width="1"/>
<line x1="577.3" y1="484.0" x2="577.3" y2="486.2" stroke="#c04060" stroke-width="1"/>
<line x1="608.3" y1="484.0" x2="608.3" y2="486.2" stroke="#c04060" stroke-width="1"/>
<line x1="639.3" y1="484.0" x2="639.3" y2="486.2" stroke="#c04060" stroke-width="1"/>
<line x1="670.3" y1="484.0" x2="670.3" y2="486.2" stroke="#c04060" stroke-width="1"/>
<line x1="701.3" y1="484.0" x2="701.3" y2="486.2" stroke="#c04060" stroke-width="1"/>
<line x1="732.3" y1="484.0" x2="732.3" y2="486.2" stroke="#c04060" stroke-width="1"/>
<line x1="763.3" y1="484.0" x2="763.3" y2="486.2" stroke="#c04060" stroke-width="1"/>
<line x1="794.3" y1="484.0" x2="794.3" y2="486.2" stroke="#c04060" stroke-width="1"/>
<line x1="825.3" y1="484.0" x2="825.3" y2="486.2" stroke="#c04060" stroke-width="1"/>
<line x1="856.3" y1="484.0" x2="856.3" y2="486.2" stroke="#c04060" stroke-width="1"/>
<line x1="887.3" y1="484.0" x2="887.3" y2="486.2" stroke="#c04060" stroke-width="1"/>
<line x1="918.3" y1="484.0" x2="918.3" y2="486.2" stroke="#c04060" stroke-width="1"/>
<line x1="949.3" y1="484.0" x2="949.3" y2="486.2" stroke="#c04060" stroke-width="1"/>
<line x1="980.3" y1="484.0" x2="980.3" y2="486.2" stroke="#c04060" stroke-width="1"/>
<line x1="1011.3" y1="484.0" x2="1011.3" y2="486.2" stroke="#c04060" stroke-width="1"/>
<line x1="1042.3" y1="484.0" x2="1042.3" y2="486.2" stroke="#c04060" stroke-width="1"/>
<line x1="1073.3" y1="484.0" x2="1073.3" y2="486.2" stroke="#c04060" stroke-width="1"/>
<line x1="1104.3" y1="484.0" x2="1104.3" y2="486.2" stroke="#c04060" stroke-width="1"/>
<line x1="1159.5" y1="64.4" x2="1162.5" y2="64.4" stroke="#a02844" stroke-width="1"/>
<line x1="1159.5" y1="89.2" x2="1162.5" y2="89.2" stroke="#a02844" stroke-width="1"/>
<line x1="1159.5" y1="114.0" x2="1162.5" y2="114.0" stroke="#a02844" stroke-width="1"/>
<line x1="1159.5" y1="138.8" x2="1162.5" y2="138.8" stroke="#a02844" stroke-width="1"/>
<line x1="1159.5" y1="163.6" x2="1162.5" y2="163.6" stroke="#a02844" stroke-width="1"/>
<line x1="1159.5" y1="188.4" x2="1162.5" y2="188.4" stroke="#a02844" stroke-width="1"/>
<line x1="1159.5" y1="213.2" x2="1162.5" y2="213.2" stroke="#a02844" stroke-width="1"/>
<line x1="1159.5" y1="238.0" x2="1162.5" y2="238.0" stroke="#a02844" stroke-width="1"/>
<line x1="1159.5" y1="262.8" x2="1162.5" y2="262.8" stroke="#a02844" stroke-width="1"/>
<line x1="1159.5" y1="287.7" x2="1162.5" y2="287.7" stroke="#a02844" stroke-width="1"/>
<line x1="1159.5" y1="312.5" x2="1162.5" y2="312.5" stroke="#a02844" stroke-width="1"/>
<line x1="1159.5" y1="337.3" x2="1162.5" y2="337.3" stroke="#a02844" stroke-width="1"/>
<line x1="1159.5" y1="362.1" x2="1162.5" y2="362.1" stroke="#a02844" stroke-width="1"/>
<line x1="1159.5" y1="386.9" x2="1162.5" y2="386.9" stroke="#a02844" stroke-width="1"/>
<line x1="1159.5" y1="411.7" x2="1162.5" y2="411.7" stroke="#a02844" stroke-width="1"/>
<line x1="1159.5" y1="436.5" x2="1162.5" y2="436.5" stroke="#a02844" stroke-width="1"/>
<line x1="1159.5" y1="461.3" x2="1162.5" y2="461.3" stroke="#a02844" stroke-width="1"/>
<polygon points="800.5,150.7 794.0,156.9 790.5,153.4 786.1,166.0 798.8,161.8 795.4,158.3 801.7,151.9" fill="#d00a18" stroke="#8c0a14" stroke-width="0.5" filter="url(#sh)"/>
<polygon points="838.0,147.7 825.9,160.7 822.3,157.4 818.5,170.2 831.0,165.4 827.4,162.1 839.4,148.9" fill="#d00a18" stroke="#8c0a14" stroke-width="0.5" filter="url(#sh)"/>
<polygon points="937.7,162.9 929.2,175.4 925.1,172.6 923.4,185.9 935.0,179.2 930.9,176.5 939.1,163.9" fill="#d00a18" stroke="#8c0a14" stroke-width="0.5" filter="url(#sh)"/>
<polygon points="1049.7,182.0 1041.5,189.2 1038.2,185.5 1033.2,197.9 1046.1,194.3 1042.8,190.7 1050.9,183.4" fill="#d00a18" stroke="#8c0a14" stroke-width="0.5" filter="url(#sh)"/>
<ellipse cx="1083.5" cy="228.8" rx="15.9" ry="27.6" fill="none" stroke="#111" stroke-width="1.7" filter="url(#sh2)"/>
<line x1="20.799999999999997" y1="47.3" x2="1160.1" y2="47.3" stroke="#666a60" stroke-width="1.1"/>
<line x1="21.4" y1="46.8" x2="21.4" y2="484.6" stroke="#111" stroke-width="1.3"/>
<line x1="1159.5" y1="46.8" x2="1159.5" y2="484.6" stroke="#111" stroke-width="1.2"/>
<line x1="20.799999999999997" y1="484.4" x2="1160.1" y2="484.4" stroke="#222" stroke-width="1.0"/>
<polygon points="27.2,524.2 32.3,518.3 37.2,524.2" fill="#7c86ae"/>
<polygon points="40.2,518.5 50.4,518.5 45.4,523.6" fill="#7c86ae"/>
<path d="M1186.9 518.2 L1191.3 522.2 M1191.3 518.2 L1186.9 522.2" stroke="#7888a8" stroke-width="1.3"/>
</svg>
<div class="xl" style="left:35.3px">30</div>
<div class="xl" style="left:66.3px">06</div>
<div class="xl" style="left:97.3px">13</div>
<div class="xl" style="left:128.3px">20</div>
<div class="xl" style="left:159.3px">27</div>
<div class="xl" style="left:190.3px">03</div>
<div class="xl" style="left:221.3px">10</div>
<div class="xl" style="left:252.3px">17</div>
<div class="xl" style="left:283.3px">24</div>
<div class="xl" style="left:314.3px">03</div>
<div class="xl" style="left:345.3px">10</div>
<div class="xl" style="left:376.3px">17</div>
<div class="xl" style="left:407.3px">24</div>
<div class="xl" style="left:438.3px">31</div>
<div class="xl" style="left:469.3px">07</div>
<div class="xl" style="left:500.3px">14</div>
<div class="xl" style="left:531.3px">21</div>
<div class="xl" style="left:562.3px">28</div>
<div class="xl" style="left:593.3px">05</div>
<div class="xl" style="left:624.3px">12</div>
<div class="xl" style="left:655.3px">19</div>
<div class="xl" style="left:686.3px">26</div>
<div class="xl" style="left:717.3px">02</div>
<div class="xl" style="left:748.3px">09</div>
<div class="xl" style="left:779.3px">16</div>
<div class="xl" style="left:810.3px">23</div>
<div class="xl" style="left:841.3px">30</div>
<div class="xl" style="left:872.3px">07</div>
<div class="xl" style="left:903.3px">14</div>
<div class="xl" style="left:934.3px">21</div>
<div class="xl" style="left:965.3px">28</div>
<div class="xl" style="left:996.3px">04</div>
<div class="xl" style="left:1027.3px">11</div>
<div class="xl" style="left:1058.3px">18</div>
<div class="xl" style="left:1089.3px">25</div>
<div class="ml" style="left:10.3px">30/13/דצמ׳</div>
<div class="ml" style="left:165.3px">03/פבר׳</div>
<div class="ml" style="left:289.3px">03/מרץ</div>
<div class="ml" style="left:444.3px">07/אפר׳</div>
<div class="ml" style="left:568.3px">05/מאי</div>
<div class="ml" style="left:692.3px">02/יונ׳</div>
<div class="ml" style="left:847.3px">07/יול</div>
<div class="ml" style="left:971.3px">04/אוג</div>
<div class="yl" style="top:60.2px">0.9650</div>
<div class="yl" style="top:85.0px">0.9600</div>
<div class="yl" style="top:109.8px">0.9550</div>
<div class="yl" style="top:134.6px">0.9500</div>
<div class="yl" style="top:159.4px">0.9450</div>
<div class="yl" style="top:184.2px">0.9400</div>
<div class="yl" style="top:209.0px">0.9350</div>
<div class="yl" style="top:233.8px;height:3.6px;overflow:hidden">0.9300</div>
<div class="yl" style="top:258.6px">0.9250</div>
<div class="yl" style="top:283.5px">0.9200</div>
<div class="yl" style="top:308.3px">0.9150</div>
<div class="yl" style="top:333.1px">0.9100</div>
<div class="yl" style="top:357.9px">0.9050</div>
<div class="yl" style="top:382.7px">0.9000</div>
<div class="yl" style="top:407.5px">0.8950</div>
<div class="yl" style="top:432.3px">0.8900</div>
<div class="yl" style="top:457.1px">0.8850</div>
<div class="abs" id="pbox"></div>
<div class="abs" id="ptext">0.9289</div>
</body></html>
